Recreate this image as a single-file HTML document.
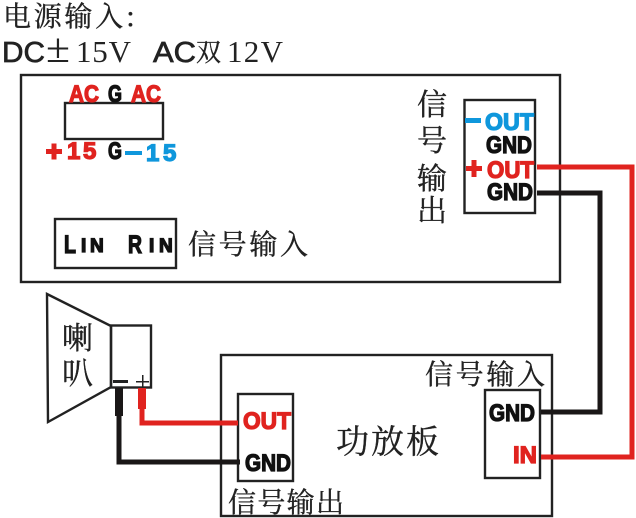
<!DOCTYPE html>
<html>
<head>
<meta charset="utf-8">
<style>
html,body{margin:0;padding:0;background:#fff;}
svg{display:block;}
.cn{font-family:"Noto Serif CJK SC","Liberation Serif",serif;font-size:28px;fill:#222;stroke:#222;stroke-width:.35px;}
.b{font-family:"Liberation Sans",sans-serif;font-weight:bold;font-size:24px;stroke-width:1.300px;}
.k{fill:#111;stroke:#111;}
.r{fill:#e0231f;stroke:#e0231f;}
.u{fill:#0f97dc;stroke:#0f97dc;}
.l{font-family:"Liberation Sans",sans-serif;font-size:29px;fill:#222;stroke:#222;stroke-width:.7px;}
.s{font-family:"Liberation Serif",serif;font-size:31px;fill:#222;}
</style>
</head>
<body>
<svg width="636" height="518" viewBox="0 0 636 518" xmlns="http://www.w3.org/2000/svg">
<rect width="636" height="518" fill="#fff"/>

<text class="cn" x="3" y="26" textLength="132" lengthAdjust="spacing">电源输入:</text>
<text class="l" x="2" y="62" textLength="43" lengthAdjust="spacingAndGlyphs">DC</text>
<text class="s" x="46" y="62" style="font-size:41px" textLength="24" lengthAdjust="spacingAndGlyphs">±</text>
<text class="s" x="76" y="62" textLength="55" lengthAdjust="spacing">15V</text>
<text class="l" x="153" y="62" textLength="43" lengthAdjust="spacingAndGlyphs">AC</text>
<text class="cn" x="196" y="61" style="font-size:25px">双</text>
<text class="s" x="227" y="62" textLength="56" lengthAdjust="spacing">12V</text>

<g fill="none" stroke="#222" stroke-width="2.4">
<rect x="21" y="75" width="539" height="207"/>
<rect x="65" y="103" width="98" height="36"/>
<rect x="55" y="219" width="121" height="49"/>
<rect x="464.500" y="100" width="70.500" height="113"/>
<rect x="221" y="355" width="331" height="161"/>
<rect x="485" y="390" width="55" height="88"/>
<rect x="238" y="394" width="55" height="87"/>
<polygon points="47,294 111,326 111,387 48,422"/>
<rect x="111" y="325.500" width="40" height="62"/>
</g>

<g fill="none" stroke-width="5">
<path d="M537 167H632V457H541" stroke="#e0231f"/>
<path d="M537 193H600V412H541" stroke="#1a1717"/>
<path d="M142 408V423H238" stroke="#e0231f"/>
<path d="M119 415V462H240" stroke="#1a1717"/>
</g>
<rect x="115" y="388" width="8" height="28" fill="#1a1717"/>
<rect x="138" y="388" width="8" height="21" fill="#e0231f"/>
<rect x="113" y="380" width="15" height="3" fill="#222"/>
<rect x="136" y="381" width="13" height="1.500" fill="#222"/>
<rect x="142" y="375" width="1.500" height="12" fill="#222"/>

<text class="b r" x="69" y="102" textLength="30" lengthAdjust="spacingAndGlyphs">AC</text>
<text class="b k" x="108" y="102" textLength="14" lengthAdjust="spacingAndGlyphs">G</text>
<text class="b r" x="131" y="102" textLength="30" lengthAdjust="spacingAndGlyphs">AC</text>
<rect x="46" y="149" width="16" height="5" fill="#e0231f"/>
<rect x="51.500" y="143.500" width="5" height="16" fill="#e0231f"/>
<text class="b r" x="67 83" y="159">15</text>
<text class="b k" x="108" y="159" textLength="14" lengthAdjust="spacingAndGlyphs">G</text>
<rect x="125" y="151" width="17" height="4" fill="#0f97dc"/>
<text class="b u" x="146 163" y="161">15</text>

<text class="b k" x="64" y="253" style="font-size:25px" textLength="12" lengthAdjust="spacingAndGlyphs">L</text>
<text class="b k" x="81 90" y="252" style="font-size:19px">IN</text>
<text class="b k" x="128" y="253" style="font-size:25px" textLength="14" lengthAdjust="spacingAndGlyphs">R</text>
<text class="b k" x="149 159" y="252" style="font-size:19px">IN</text>
<text class="cn" x="188" y="254" textLength="120" lengthAdjust="spacing">信号输入</text>

<text class="cn" style="font-size:30px" x="417" y="115">信</text>
<text class="cn" style="font-size:30px" x="417" y="151">号</text>
<text class="cn" style="font-size:30px" x="417" y="189">输</text>
<text class="cn" style="font-size:30px" x="417" y="221">出</text>

<rect x="465" y="118" width="16" height="5" fill="#0f97dc"/>
<text class="b u" x="485" y="130" textLength="49" lengthAdjust="spacingAndGlyphs">OUT</text>
<text class="b k" x="486" y="153" textLength="46" lengthAdjust="spacingAndGlyphs">GND</text>
<rect x="466" y="166" width="16" height="5" fill="#e0231f"/>
<rect x="471.500" y="160" width="5" height="17" fill="#e0231f"/>
<text class="b r" x="487" y="178" textLength="47" lengthAdjust="spacingAndGlyphs">OUT</text>
<text class="b k" x="487" y="200" textLength="46" lengthAdjust="spacingAndGlyphs">GND</text>

<text class="cn" style="font-size:31px" x="62" y="349">喇</text>
<text class="cn" style="font-size:31px" x="62" y="384">叭</text>

<text class="b r" x="243" y="429" textLength="48" lengthAdjust="spacingAndGlyphs">OUT</text>
<text class="b k" x="245" y="471" textLength="46" lengthAdjust="spacingAndGlyphs">GND</text>
<text class="cn" x="228" y="512" textLength="116" lengthAdjust="spacing">信号输出</text>

<text class="cn" x="336" y="453" style="font-size:33px" textLength="103" lengthAdjust="spacing">功放板</text>

<text class="cn" x="425" y="384" textLength="120" lengthAdjust="spacing">信号输入</text>
<text class="b k" x="489" y="421" textLength="46" lengthAdjust="spacingAndGlyphs">GND</text>
<text class="b r" x="513" y="463" textLength="24" lengthAdjust="spacingAndGlyphs">IN</text>
</svg>
</body>
</html>
